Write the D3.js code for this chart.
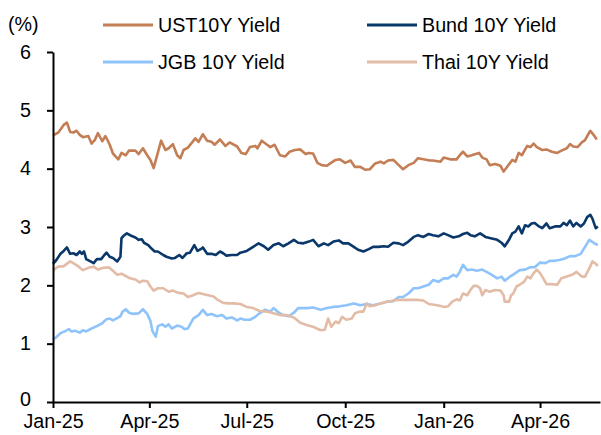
<!DOCTYPE html>
<html>
<head>
<meta charset="utf-8">
<script src="https://cdn.jsdelivr.net/npm/d3@7/dist/d3.min.js"></script>
<style>
  body { margin: 0; background: #fff; }
  svg text { font-family: "Liberation Sans", Arial, sans-serif; font-size: 19.7px; fill: #000; }
</style>
</head>
<body>
<div id="chart"></div>
<script>
// readings: [days since 1 Jan 2025, yield %]
var ust = [[0,4.57],[5,4.62],[10,4.75],[13,4.79],[16,4.63],[19,4.62],[22,4.65],[25,4.58],[28,4.54],[33,4.56],
  [36,4.43],[39,4.49],[42,4.61],[46,4.47],[49,4.56],[53,4.41],[56,4.26],[61,4.16],[64,4.27],[68,4.23],
  [71,4.31],[77,4.31],[80,4.25],[84,4.35],[88,4.23],[91,4.15],[94,4.01],[97,4.21],[101,4.48],[105,4.32],
  [108,4.35],[112,4.42],[116,4.23],[119,4.18],[122,4.32],[126,4.36],[130,4.45],[133,4.52],[136,4.46],[140,4.59],
  [144,4.48],[148,4.46],[151,4.41],[156,4.50],[161,4.39],[165,4.45],[172,4.38],[176,4.27],[180,4.25],[184,4.37],
  [189,4.39],[191,4.35],[195,4.48],[200,4.41],[203,4.37],[207,4.41],[212,4.23],[217,4.21],[221,4.29],[226,4.32],
  [231,4.33],[236,4.25],[239,4.27],[243,4.26],[247,4.10],[251,4.06],[256,4.05],[259,4.09],[264,4.15],[268,4.16],
  [273,4.10],[278,4.14],[282,4.03],[287,4.03],[292,3.98],[296,3.99],[301,4.09],[306,4.12],[309,4.09],[313,4.14],
  [318,4.15],[323,4.06],[327,3.99],[332,4.06],[337,4.10],[341,4.18],[346,4.16],[352,4.14],[355,4.14],[362,4.12],
  [365,4.19],[371,4.16],[377,4.16],[380,4.23],[383,4.29],[387,4.21],[391,4.23],[398,4.27],[401,4.19],[405,4.16],
  [408,4.06],[413,4.08],[418,4.05],[421,3.95],[425,4.05],[429,4.15],[432,4.12],[435,4.27],[438,4.23],[443,4.39],
  [446,4.37],[449,4.43],[452,4.37],[457,4.32],[461,4.33],[466,4.29],[471,4.27],[475,4.31],[480,4.35],[483,4.42],
  [486,4.38],[490,4.37],[494,4.45],[497,4.49],[500,4.59],[502,4.65],[505,4.58],[508,4.50]];

var bund = [[0,2.37],[3,2.43],[7,2.54],[10,2.59],[13,2.65],[16,2.54],[19,2.55],[22,2.52],[25,2.58],[27,2.54],
  [29,2.58],[31,2.45],[35,2.41],[38,2.38],[41,2.45],[45,2.45],[48,2.52],[50,2.56],[53,2.49],[56,2.47],
  [60,2.41],[63,2.49],[64,2.81],[66,2.85],[69,2.89],[73,2.85],[77,2.82],[80,2.78],[83,2.79],[85,2.73],
  [89,2.69],[92,2.63],[95,2.58],[98,2.58],[103,2.52],[106,2.49],[111,2.46],[114,2.47],[118,2.52],[121,2.47],
  [125,2.55],[128,2.56],[132,2.69],[135,2.59],[138,2.62],[140,2.65],[144,2.54],[148,2.54],[152,2.52],[156,2.58],
  [159,2.55],[162,2.51],[167,2.52],[172,2.52],[175,2.56],[181,2.59],[187,2.66],[192,2.72],[197,2.67],[201,2.61],
  [206,2.69],[211,2.72],[215,2.67],[220,2.72],[225,2.78],[229,2.73],[234,2.72],[239,2.75],[243,2.78],[248,2.67],
  [253,2.72],[257,2.69],[262,2.75],[267,2.77],[271,2.72],[276,2.72],[281,2.66],[285,2.61],[290,2.58],[295,2.62],
  [299,2.66],[304,2.66],[309,2.67],[313,2.66],[318,2.73],[323,2.72],[327,2.69],[332,2.75],[337,2.83],[341,2.86],
  [346,2.83],[351,2.88],[355,2.86],[360,2.84],[365,2.89],[369,2.86],[374,2.82],[379,2.84],[383,2.88],[387,2.90],
  [390,2.86],[394,2.84],[399,2.89],[404,2.83],[408,2.81],[415,2.78],[419,2.73],[422,2.67],[426,2.78],[429,2.89],
  [432,2.92],[435,3.01],[438,2.89],[441,3.03],[444,3.01],[447,3.06],[450,3.07],[454,3.01],[457,2.98],[461,3.06],
  [464,2.98],[469,3.01],[474,3.01],[477,3.07],[480,3.03],[483,3.11],[486,3.01],[489,3.07],[493,3.01],[496,3.06],
  [499,3.17],[502,3.21],[504,3.14],[507,2.98],[509,3.01]];

var jgb = [[0,1.07],[3,1.11],[7,1.18],[11,1.21],[15,1.25],[17,1.21],[21,1.22],[25,1.19],[28,1.23],[31,1.21],
  [36,1.26],[41,1.30],[46,1.35],[50,1.42],[53,1.43],[56,1.40],[59,1.43],[63,1.47],[65,1.55],[68,1.59],
  [71,1.53],[75,1.51],[80,1.52],[84,1.59],[88,1.51],[91,1.39],[93,1.21],[96,1.12],[98,1.30],[102,1.33],
  [105,1.29],[108,1.33],[111,1.26],[116,1.31],[120,1.29],[123,1.25],[126,1.26],[131,1.43],[136,1.49],[140,1.58],
  [144,1.49],[148,1.51],[153,1.47],[158,1.49],[162,1.43],[167,1.45],[172,1.40],[175,1.43],[179,1.41],[184,1.41],
  [189,1.46],[193,1.52],[198,1.58],[203,1.55],[206,1.61],[211,1.53],[215,1.49],[220,1.47],[225,1.53],[229,1.61],
  [234,1.61],[237,1.61],[243,1.62],[250,1.58],[256,1.61],[262,1.63],[268,1.64],[274,1.66],[281,1.69],[287,1.66],
  [293,1.68],[299,1.66],[306,1.69],[312,1.72],[318,1.73],[323,1.80],[327,1.80],[332,1.86],[337,1.95],[341,1.95],
  [346,1.98],[351,2.01],[355,2.09],[360,2.06],[365,2.12],[369,2.12],[374,2.18],[377,2.15],[380,2.23],[383,2.35],
  [387,2.26],[391,2.27],[396,2.25],[401,2.27],[405,2.23],[410,2.18],[415,2.12],[419,2.15],[422,2.08],[427,2.15],
  [432,2.21],[436,2.26],[441,2.27],[446,2.31],[450,2.31],[455,2.39],[460,2.38],[464,2.42],[469,2.42],[474,2.44],
  [478,2.46],[483,2.50],[488,2.50],[493,2.54],[497,2.66],[501,2.78],[505,2.73],[509,2.69]];

var thai = [[0,2.26],[5,2.32],[10,2.33],[16,2.41],[19,2.38],[24,2.32],[28,2.26],[33,2.30],[38,2.32],[42,2.27],
  [47,2.30],[52,2.31],[56,2.25],[60,2.18],[64,2.20],[68,2.16],[72,2.12],[77,2.10],[81,2.05],[84,2.08],
  [88,2.07],[91,1.98],[94,1.91],[98,1.95],[103,1.95],[108,1.89],[112,1.91],[117,1.87],[122,1.86],[126,1.80],
  [131,1.83],[136,1.87],[140,1.85],[145,1.83],[150,1.81],[154,1.75],[159,1.70],[164,1.69],[169,1.69],[175,1.68],
  [181,1.63],[187,1.61],[193,1.56],[200,1.55],[206,1.52],[212,1.49],[218,1.49],[225,1.45],[231,1.36],[237,1.32],
  [243,1.29],[250,1.23],[254,1.24],[257,1.43],[260,1.29],[264,1.38],[267,1.35],[270,1.46],[274,1.41],[279,1.43],
  [282,1.52],[287,1.55],[290,1.55],[293,1.69],[296,1.64],[301,1.66],[306,1.69],[312,1.72],[321,1.75],[331,1.75],
  [340,1.75],[346,1.74],[351,1.68],[359,1.66],[366,1.63],[369,1.64],[373,1.72],[377,1.76],[380,1.74],[383,1.86],
  [387,1.83],[390,1.92],[393,1.99],[396,1.99],[399,1.95],[401,1.83],[404,1.92],[408,1.89],[413,1.92],[418,1.91],
  [421,1.83],[422,1.72],[426,1.72],[428,1.83],[430,1.86],[433,1.98],[436,2.01],[440,2.06],[443,2.15],[446,2.12],
  [449,2.21],[452,2.27],[455,2.21],[458,2.12],[461,2.02],[466,2.02],[471,2.01],[475,2.12],[480,2.15],[485,2.18],
  [489,2.23],[494,2.15],[497,2.15],[501,2.29],[504,2.41],[507,2.37],[509,2.33]];

var seriesNames = ['UST10Y Yield', 'Bund 10Y Yield', 'JGB 10Y Yield', 'Thai 10Y Yield'];
var seriesColors = ['#c47e55', '#0b386b', '#8fc3fb', '#e2bca6'];
var yTicks = [0, 1, 2, 3, 4, 5, 6];
var xTicks = ['2025-01-01', '2025-04-01', '2025-07-01', '2025-10-01', '2026-01-01', '2026-04-01'];

var width = 601;
var height = 435;
var start = new Date(2025, 0, 1);
var parse = d3.timeParse('%Y-%m-%d');

var svg = d3.select('#chart').append('svg').
  attr('width', width).
  attr('height', height);

var x = d3.scaleTime().
  domain([start, new Date(2026, 4, 27)]).
  range([53, 600]);

var y = d3.scaleLinear().
  domain([0, 6]).
  range([402, 52]);

var line = d3.line().
  x(function (d) { return x(d3.timeDay.offset(start, d[0])); }).
  y(function (d) { return y(d[1]); });

var allSeries = [ust, bund, jgb, thai];

svg.selectAll('path.series').
  data(allSeries).
  enter().
  append('path').
  attr('class', 'series').
  attr('d', line).
  attr('fill', 'none').
  attr('stroke', function (d, i) { return seriesColors[i]; }).
  attr('stroke-width', 2.6).
  attr('stroke-linejoin', 'round');

var xAxis = d3.axisBottom(x).
  tickValues(xTicks.map(parse)).
  tickFormat(d3.timeFormat('%b-%y')).
  tickSize(6).
  tickSizeOuter(0).
  tickPadding(6);

var yAxis = d3.axisLeft(y).
  tickValues(yTicks).
  tickFormat(d3.format('d')).
  tickSize(6).
  tickSizeOuter(0).
  tickPadding(16);

var gx = svg.append('g').
  attr('transform', 'translate(0,' + y(0) + ')').
  call(xAxis);

var gy = svg.append('g').
  attr('transform', 'translate(' + x(start) + ',0)').
  call(yAxis);

[gx, gy].forEach(function (g) {
  g.attr('font-family', null).attr('font-size', null);
  g.select('.domain').attr('stroke', '#000').attr('stroke-width', 2);
  g.selectAll('.tick line').attr('stroke', '#000').attr('stroke-width', 2);
});

// "0" sits a touch higher so it clears the Jan-25 label
gy.selectAll('.tick text').filter(function (d) { return d === 0; }).attr('dy', '0.2em');

svg.append('text').
  attr('x', 8).
  attr('y', 31).
  text('(%)');

// legend, two columns
var legend = svg.selectAll('g.legend').
  data(seriesNames).
  enter().
  append('g').
  attr('class', 'legend').
  attr('transform', function (d, i) {
    return 'translate(' + (i % 2 === 0 ? 103 : 367) + ',' + (i < 2 ? 25 : 62) + ')';
  });

legend.append('line').
  attr('x1', 0).
  attr('x2', 50).
  attr('stroke', function (d, i) { return seriesColors[i]; }).
  attr('stroke-width', 3);

legend.append('text').
  attr('x', 55).
  attr('dy', '0.35em').
  text(function (d) { return d; });
</script>
</body>
</html>
